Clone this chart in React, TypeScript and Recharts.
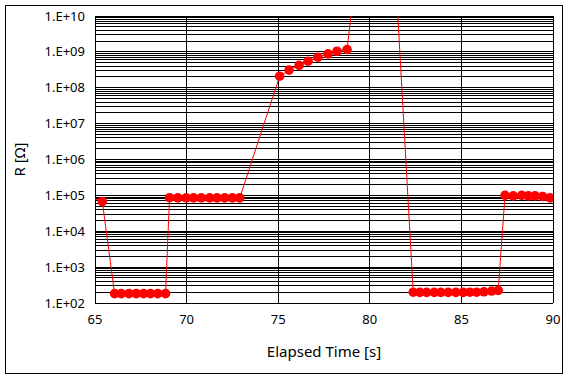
import { CartesianGrid, Line, LineChart, ReferenceLine, XAxis, YAxis } from "recharts"

// elapsed time [s] and resistance [ohm]
// (first, peak and last samples sit outside the plotted window)
const timeS = [
  64.5, 65.4,
  66.07, 66.43, 66.85, 67.25, 67.65, 68.03, 68.43, 68.85,
  69.07, 69.52, 69.98, 70.38, 70.8, 71.26, 71.66, 72.08, 72.5, 72.9,
  75.08, 75.59, 76.14, 76.63, 77.17, 77.72, 78.21, 78.76,
  80.7,
  82.37, 82.73, 83.1, 83.51, 83.88, 84.28, 84.7, 85.1, 85.46, 85.83, 86.23, 86.65, 87.01,
  87.38, 87.83, 88.29, 88.65, 89.02, 89.44, 89.84,
  90.5,
]

const resistanceOhm = [
  1.0e5, 6.7e4,
  182, 182, 182, 182, 182, 182, 182, 182,
  8.6e4, 8.5e4, 8.5e4, 8.5e4, 8.5e4, 8.5e4, 8.5e4, 8.5e4, 8.5e4, 8.5e4,
  2.1e8, 3.1e8, 4.2e8, 5.5e8, 7.1e8, 8.8e8, 1.04e9, 1.16e9,
  4e17,
  200, 198, 198, 198, 198, 198, 198, 198, 200, 200, 205, 215, 225,
  1.0e5, 9.7e4, 1.0e5, 9.7e4, 9.7e4, 9.3e4, 8.5e4,
  9.8e4,
]

const xTicks = [65, 70, 75, 80, 85, 90]
const yTicks = [1e2, 1e3, 1e4, 1e5, 1e6, 1e7, 1e8, 1e9, 1e10]
const minorSteps = [1, 2, 3, 4, 5, 6, 7, 8, 9]

const data = timeS.map((t, i) => ({ t, r: resistanceOhm[i] }))

// log grid: every 1..9 x 10^k, plus the top decade
const gridY = yTicks.slice(0, -1).flatMap((d) => minorSteps.map((m) => m * d)).concat([1e10])

const fmtExp = (v: number) => {
  const e = Math.round(Math.log10(v))
  return `1.E+${String(e).padStart(2, "0")}`
}

const font = "'Noto Sans', 'DejaVu Sans', sans-serif"

function renderDot(props: any) {
  const { cx, cy, payload, index } = props
  if (payload.t < 65 || payload.t > 90 || payload.r > 1e10) return <g key={`dot-${index}`} />
  return <circle key={`dot-${index}`} cx={cx} cy={cy} r={4.8} fill="#FF0000" stroke="none" />
}

export default function App() {
  return (
    <div style={{ position: "absolute", left: 0, top: 0, width: 569, height: 379, background: "#fff" }}>
      <div
        style={{
          position: "absolute",
          left: 5,
          top: 5,
          width: 556,
          height: 367,
          border: "1px solid #000",
        }}
      />
      <div style={{ position: "absolute", left: 0, top: 0 }}>
        <LineChart
          width={569}
          height={379}
          data={data}
          margin={{ top: 16, right: 16, bottom: 0, left: 0 }}
          style={{ fontFamily: font }}
        >
          <CartesianGrid
            stroke="#000"
            strokeWidth={1}
            horizontal={false}
            verticalValues={xTicks}
            shapeRendering="crispEdges"
          />
          {gridY.map((v) => (
            <ReferenceLine
              key={`gy-${v}`}
              y={v}
              stroke="#000"
              strokeWidth={1}
              ifOverflow="visible"
              shapeRendering="crispEdges"
            />
          ))}
          <ReferenceLine x={65} stroke="#000" strokeWidth={1} ifOverflow="visible" shapeRendering="crispEdges" />
          <ReferenceLine x={90} stroke="#000" strokeWidth={1} ifOverflow="visible" shapeRendering="crispEdges" />
          <XAxis
            type="number"
            dataKey="t"
            domain={[65, 90]}
            ticks={xTicks}
            allowDataOverflow
            height={76}
            axisLine={false}
            tickLine={false}
            tickMargin={6}
            tick={{ fill: "#000", fontSize: 13 }}
            label={{
              value: "Elapsed Time [s]",
              position: "insideBottom",
              offset: 22,
              style: { fill: "#000", fontSize: 15 },
            }}
          />
          <YAxis
            type="number"
            dataKey="r"
            scale="log"
            domain={[1e2, 1e10]}
            ticks={yTicks}
            allowDataOverflow
            width={95}
            axisLine={false}
            tickLine={false}
            tickMargin={4}
            tickFormatter={fmtExp}
            tick={{ fill: "#000", fontSize: 13 }}
            label={{
              value: "R [Ω]",
              angle: -90,
              position: "insideLeft",
              offset: 20,
              style: { fill: "#000", fontSize: 15, textAnchor: "middle" },
            }}
          />
          <Line
            type="linear"
            dataKey="r"
            stroke="#FF0000"
            strokeWidth={1}
            dot={renderDot}
            activeDot={false}
            isAnimationActive={false}
          />
        </LineChart>
      </div>
    </div>
  )
}
